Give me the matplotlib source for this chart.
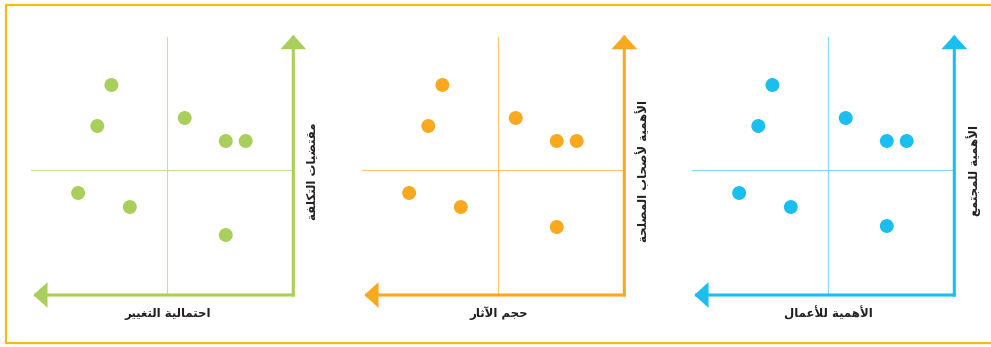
import matplotlib
matplotlib.use("Agg")
import matplotlib.pyplot as plt
from matplotlib.lines import Line2D

# data: points are the same layout in all three panels (x grows to the left)
point_x = [7.22, 7.78, 4.31, 2.68, 1.89, 8.54, 6.49, 2.68]
point_y_green = [8.40, 6.76, 7.08, 6.16, 6.16, 4.08, 3.52, 2.40]
point_y_orange = [8.40, 6.76, 7.08, 6.16, 6.16, 4.08, 3.52, 2.72]
point_y_cyan = [8.40, 6.76, 7.08, 6.16, 6.16, 4.08, 3.52, 2.76]

x_labels = ["احتمالية التغيير", "حجم الآثار", "الأهمية للأعمال"]
y_labels = ["مقتضيات التكلفة", "الأهمية لأصحاب المصلحة", "الأهمية للمجتمع"]

colors = ["#A8CF5C", "#F8A91E", "#1BBFEF"]
light_colors = ["#C6E19A", "#FBC769", "#82D9F6"]
border_color = "#F2BF10"

# matplotlib has no arabic shaping, so map letters to presentation forms by hand
FORMS = {
    "ا": (0xFE8D, 0xFE8E), "أ": (0xFE83, 0xFE84), "آ": (0xFE81, 0xFE82),
    "ب": (0xFE8F, 0xFE90, 0xFE91, 0xFE92), "ة": (0xFE93, 0xFE94),
    "ت": (0xFE95, 0xFE96, 0xFE97, 0xFE98), "ث": (0xFE99, 0xFE9A, 0xFE9B, 0xFE9C),
    "ج": (0xFE9D, 0xFE9E, 0xFE9F, 0xFEA0), "ح": (0xFEA1, 0xFEA2, 0xFEA3, 0xFEA4),
    "ر": (0xFEAD, 0xFEAE),
    "ص": (0xFEB9, 0xFEBA, 0xFEBB, 0xFEBC), "ض": (0xFEBD, 0xFEBE, 0xFEBF, 0xFEC0),
    "ع": (0xFEC9, 0xFECA, 0xFECB, 0xFECC), "غ": (0xFECD, 0xFECE, 0xFECF, 0xFED0),
    "ف": (0xFED1, 0xFED2, 0xFED3, 0xFED4), "ق": (0xFED5, 0xFED6, 0xFED7, 0xFED8),
    "ك": (0xFED9, 0xFEDA, 0xFEDB, 0xFEDC), "ل": (0xFEDD, 0xFEDE, 0xFEDF, 0xFEE0),
    "م": (0xFEE1, 0xFEE2, 0xFEE3, 0xFEE4), "ه": (0xFEE9, 0xFEEA, 0xFEEB, 0xFEEC),
    "ي": (0xFEF1, 0xFEF2, 0xFEF3, 0xFEF4),
}
LAM_ALEF = {"ا": (0xFEFB, 0xFEFC), "أ": (0xFEF7, 0xFEF8), "آ": (0xFEF5, 0xFEF6)}


def shape_ar(text):
    units = []
    i = 0
    while i < len(text):
        c = text[i]
        if c == "ل" and i + 1 < len(text) and text[i + 1] in LAM_ALEF:
            units.append(LAM_ALEF[text[i + 1]])
            i += 2
            continue
        units.append(FORMS.get(c, c))
        i += 1
    out = []
    for k, u in enumerate(units):
        if isinstance(u, str):
            out.append(u)
            continue
        prev = units[k - 1] if k > 0 else None
        nxt = units[k + 1] if k + 1 < len(units) else None
        join_prev = isinstance(prev, tuple) and len(prev) == 4
        join_next = len(u) == 4 and isinstance(nxt, tuple)
        if join_prev and join_next:
            cp = u[3]
        elif join_prev:
            cp = u[1]
        elif join_next:
            cp = u[2]
        else:
            cp = u[0]
        out.append(chr(cp))
    return "".join(reversed(out))


W, H = 991, 347
fig = plt.figure(figsize=(W / 100, H / 100), dpi=100)

# yellow frame (open on the right side, like the cropped original)
fig.add_artist(Line2D([1.0, 6 / W, 6 / W, 1.0],
                      [1 - 5 / H, 1 - 5 / H, 1 - 343 / H, 1 - 343 / H],
                      color=border_color, lw=1.6, solid_joinstyle="miter"))

origins = [293.3, 624.3, 954.3]
all_y = [point_y_green, point_y_orange, point_y_cyan]
XMAX, YMAX = 10.4, 10.4

for i, ox in enumerate(origins):
    c = colors[i]
    ax = fig.add_axes([(ox - 262) / W, (H - 295) / H, 262 / W, 260 / H])
    ax.set_xlim(XMAX, 0)
    ax.set_ylim(0, YMAX)
    ax.axis("off")

    # quadrant lines
    ax.plot([5, 5], [0, 10.32], color=light_colors[i], lw=0.8, zorder=1)
    ax.plot([0, XMAX], [5, 5], color=light_colors[i], lw=0.8, zorder=1)

    # L-shaped axis arrows, projecting caps close the corner
    style = "-|>,head_length=0.75,head_width=0.68"
    arrow = dict(arrowstyle=style, color=c, lw=2.2, shrinkA=0, shrinkB=0,
                 capstyle="projecting", joinstyle="miter")
    ax.annotate("", xy=(10.32, 0), xytext=(0, 0), annotation_clip=False, arrowprops=arrow)
    ax.annotate("", xy=(0, YMAX), xytext=(0, 0), annotation_clip=False, arrowprops=arrow)

    ax.scatter(point_x, all_y[i], s=100, color=c, edgecolors="none", zorder=3, clip_on=False)

    ax.text(5, -0.72, shape_ar(x_labels[i]), ha="center", va="center",
            fontsize=8.5, fontweight="bold", color="#231F20", clip_on=False)
    ax.text(-0.75, 4.96, shape_ar(y_labels[i]), ha="center", va="center", rotation=90,
            fontsize=8.5, fontweight="bold", color="#231F20", clip_on=False)

fig.savefig("out.png", dpi=100)
